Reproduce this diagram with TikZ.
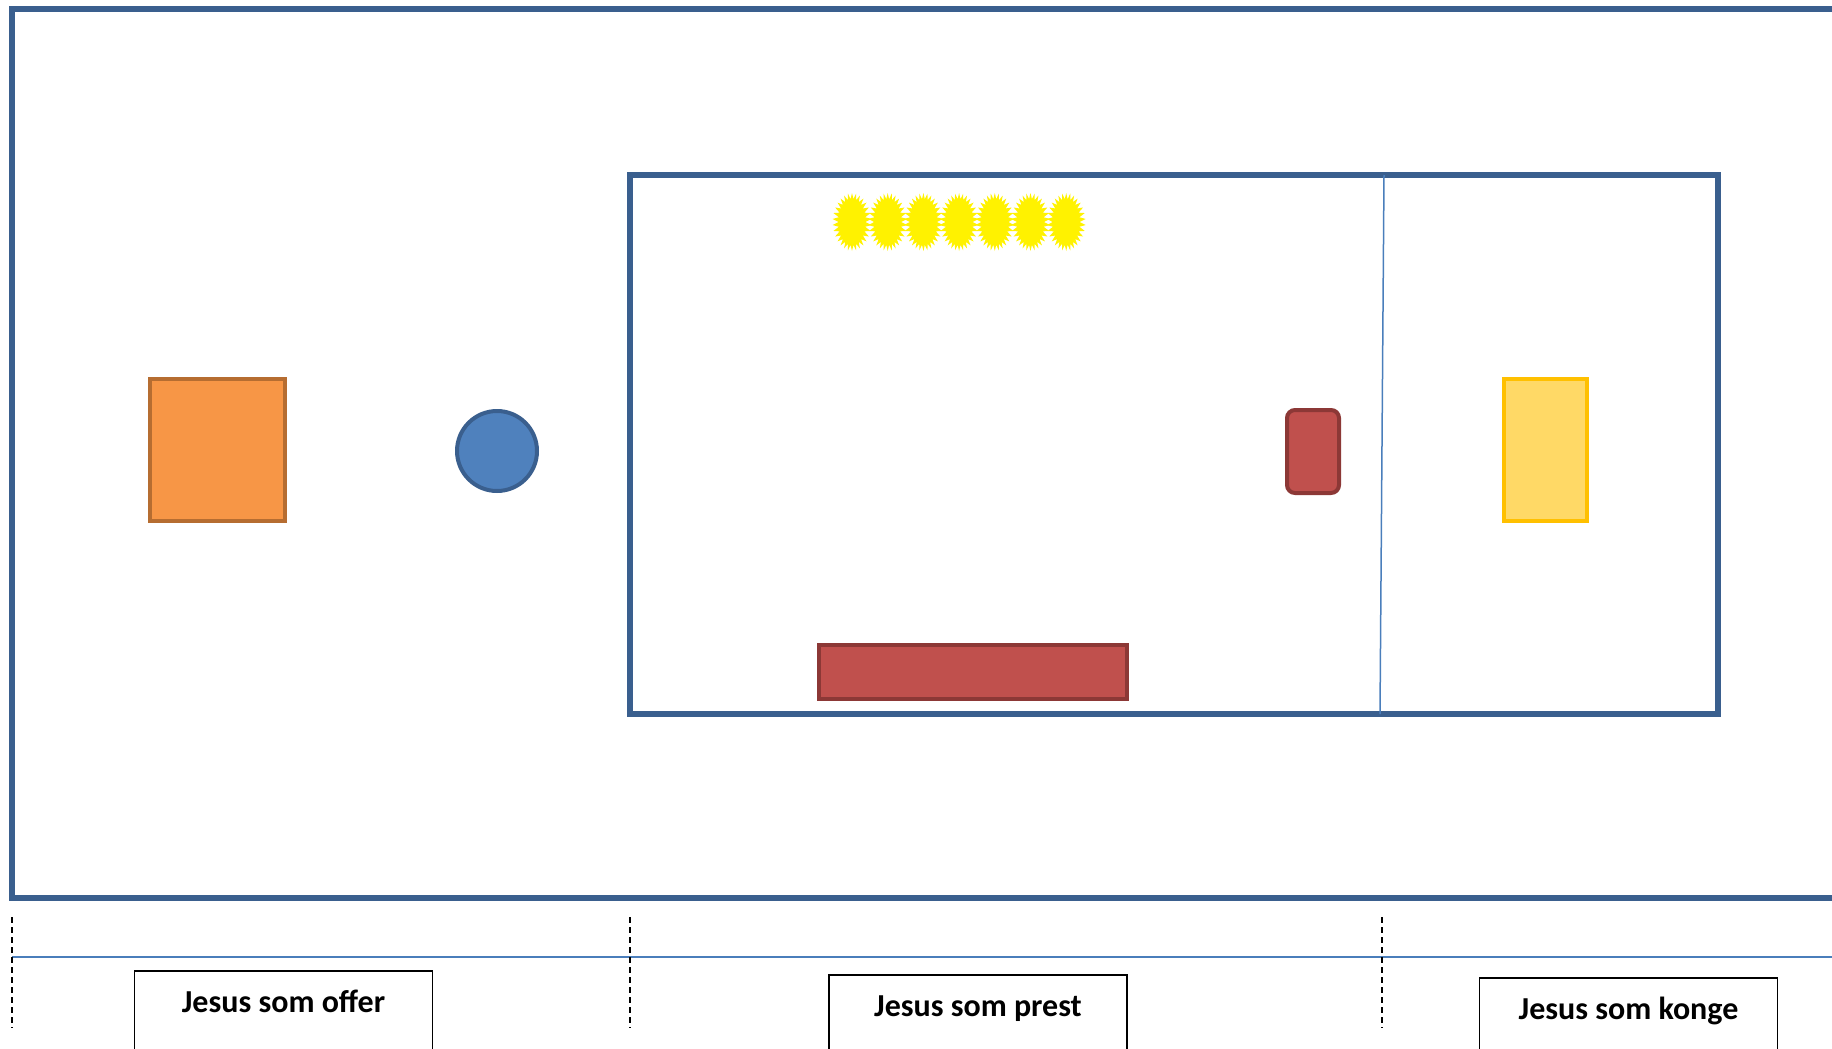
\documentclass[tikz,border=0pt]{standalone}
\usepackage{fontspec}
\setmainfont{Carlito}
\usetikzlibrary{shapes.symbols}
\definecolor{frameblue}{HTML}{3A5F8E}
\definecolor{lineblue}{HTML}{4A7EBB}
\definecolor{altarfill}{HTML}{F79646}
\definecolor{altardraw}{HTML}{B66D31}
\definecolor{basinfill}{HTML}{4F81BD}
\definecolor{tablefill}{HTML}{C0504D}
\definecolor{tabledraw}{HTML}{8C3836}
\definecolor{arkfill}{HTML}{FFD966}
\definecolor{arkdraw}{HTML}{FFC000}

\begin{document}
\begin{tikzpicture}[x=0.5pt, y=-0.5pt,
  wall/.style={draw=frameblue, line width=2.6pt},
  thin/.style={draw=lineblue, line width=0.75pt},
  sep/.style={draw=black, line width=0.7pt, dash pattern=on 3pt off 2pt},
  altar/.style={draw=altardraw, fill=altarfill, line width=2pt, inner sep=0pt},
  basin/.style={circle, draw=frameblue, fill=basinfill, line width=2pt, inner sep=0pt},
  table/.style={draw=tabledraw, fill=tablefill, line width=2pt, inner sep=0pt},
  ark/.style={draw=arkdraw, fill=arkfill, line width=2pt, inner sep=0pt},
  lamp/.style={starburst, starburst points=30, starburst point height=3pt,
    random starburst=0, fill=yellow, inner sep=0pt, minimum width=19.5pt, minimum height=29pt},
  lbl/.style={draw, line width=0.8pt, minimum width=149pt, inner xsep=0pt, inner ysep=0pt,
    text height=21pt, text depth=30pt, anchor=north,
    font=\bfseries\fontsize{16}{19}\selectfont},
]
  \useasboundingbox (0,0) rectangle (1832,1049);
  \clip (0,0) rectangle (1832,1049);

  % court and tent
  \draw[wall] (12,9) rectangle (1870,898);
  \draw[wall] (630,175) rectangle (1718,714);
  \coordinate (veiltop) at (1384,175);
  \coordinate (veilbot) at (1380,714);
  \draw[thin] (veiltop) -- (veilbot);

  % furniture
  \node[altar, minimum width=67.5pt, minimum height=71pt] (altar) at (217.5,450) {};
  \node[basin, minimum size=40pt] (basin) at (497,451) {};
  \foreach \i in {0,...,6}
    \node[lamp] (lamp\i) at ({852+35.7*\i},222) {};
  \node[table, minimum width=154pt, minimum height=27pt] (bread) at (973,672) {};
  \node[table, rounded corners=4pt, minimum width=26pt, minimum height=41.5pt] (incense) at (1313,451.5) {};
  \node[ark, minimum width=41.5pt, minimum height=71pt] (ark) at (1545.5,450) {};

  % time line
  \coordinate (tl) at (12,957);
  \coordinate (tr) at (1832,957);
  \draw[thin] (tl) -- (tr);
  \foreach \x in {12,630,1382}
    \draw[sep] (\x,917) -- (\x,1028);

  \node[lbl] (offer) at (283.5,970) {Jesus som offer};
  \node[lbl] (prest) at (978,974) {Jesus som prest};
  \node[lbl] (konge) at (1628.5,977) {Jesus som konge};
\end{tikzpicture}
\end{document}
